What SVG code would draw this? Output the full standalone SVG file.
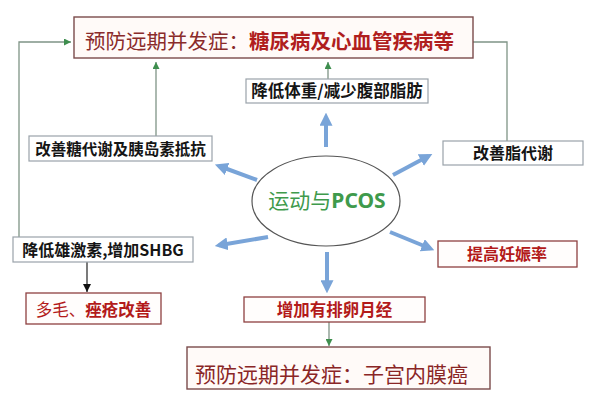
<svg xmlns="http://www.w3.org/2000/svg" width="600" height="400" viewBox="0 0 600 400">
<defs>
<style>
text{font-family:"Noto Sans CJK SC","Noto Sans",sans-serif;}
.box{fill:#ffffff;stroke:#9aa2aa;stroke-width:1.2;}
.rbox{fill:#fffdfc;stroke:#8e4040;stroke-width:1.3;}
.tbox{fill:#fffaf8;stroke:#7b4b4b;stroke-width:1.4;}
.blk{font-weight:700;fill:#151515;text-anchor:middle;}
.red{font-weight:700;fill:#b31a1a;text-anchor:middle;}
.big{fill:#8a2626;}
.g{fill:none;stroke:#7f9486;stroke-width:1.3;}
.b{fill:none;stroke:#79a4d8;stroke-width:4;}
</style>
<marker id="ag" viewBox="0 0 8 8" refX="8" refY="4" markerWidth="7" markerHeight="7" markerUnits="userSpaceOnUse" orient="auto"><path d="M0,0 L8,4 L0,8 z" fill="#3e8e4e"/></marker>
<marker id="ak" viewBox="0 0 8 8" refX="8" refY="4" markerWidth="8" markerHeight="8" markerUnits="userSpaceOnUse" orient="auto"><path d="M0,0 L8,4 L0,8 z" fill="#111"/></marker>
<marker id="ab" viewBox="0 0 12 12" refX="8" refY="6" markerWidth="13" markerHeight="13" markerUnits="userSpaceOnUse" orient="auto"><path d="M0,0 L12,6 L0,12 z" fill="#79a4d8"/></marker>
</defs>
<rect width="600" height="400" fill="#ffffff"/>

<g id="connectors">
<polyline class="g" points="19,237 19,42 71,42" marker-end="url(#ag)"/>
<line class="g" x1="156" y1="136" x2="156" y2="62" marker-end="url(#ag)"/>
<line class="g" x1="328" y1="79" x2="328" y2="62" marker-end="url(#ag)"/>
<polyline class="g" points="507,141 507,42 463,42" marker-end="url(#ag)"/>
<line class="g" x1="329" y1="322" x2="329" y2="346" marker-end="url(#ag)"/>
<line x1="87" y1="262" x2="87" y2="292" stroke="#333" stroke-width="1.3" marker-end="url(#ak)"/>
<line class="b" x1="326" y1="147" x2="326" y2="117" marker-end="url(#ab)"/>
<line class="b" x1="257" y1="180" x2="219" y2="166" marker-end="url(#ab)"/>
<line class="b" x1="393" y1="175" x2="428.5" y2="156" marker-end="url(#ab)"/>
<line class="b" x1="268" y1="237" x2="219" y2="245.3" marker-end="url(#ab)"/>
<line class="b" x1="390" y1="232" x2="430.3" y2="248.5" marker-end="url(#ab)"/>
<line class="b" x1="327" y1="252" x2="327" y2="289" marker-end="url(#ab)"/>
</g>

<g id="top">
<rect class="tbox" x="74" y="17" width="399" height="41"/>
<text x="85" y="49" font-size="20.5"><tspan fill="#8a2b2b">预防远期并发症：</tspan><tspan fill="#b01e1e" font-weight="700">糖尿病及心血管疾病等</tspan></text>
</g>

<g id="weight">
<rect class="box" x="246" y="79" width="182" height="24"/>
<text class="blk" x="337" y="97" font-size="16.5">降低体重/减少腹部脂肪</text>
</g>

<g id="glucose">
<rect class="box" x="29" y="136" width="183" height="25"/>
<text class="blk" x="120.5" y="155" font-size="15.5">改善糖代谢及胰岛素抵抗</text>
</g>

<g id="lipid">
<rect class="box" x="443" y="141" width="140" height="24"/>
<text class="blk" x="513" y="159" font-size="16">改善脂代谢</text>
</g>

<g id="center">
<ellipse cx="326" cy="201" rx="74" ry="45" fill="#ffffff" stroke="#555" stroke-width="1.2"/>
<text x="327" y="208" font-size="21" text-anchor="middle" fill="#3f9a4c"><tspan>运动与</tspan><tspan font-weight="700" font-family="'Noto Sans',sans-serif">PCOS</tspan></text>
</g>

<g id="androgen">
<rect class="box" x="13" y="237" width="180" height="25"/>
<text class="blk" x="103" y="256" font-size="16">降低雄激素,增加SHBG</text>
</g>

<g id="pregnancy">
<rect class="rbox" x="438" y="241" width="139" height="26"/>
<text class="red" x="507" y="260" font-size="16">提高妊娠率</text>
</g>

<g id="hair">
<rect class="rbox" x="26" y="293" width="135" height="31"/>
<text class="red" x="93.5" y="316" font-size="16.5"><tspan font-weight="400">多毛、</tspan>痤疮改善</text>
</g>

<g id="ovulation">
<rect class="rbox" x="244" y="297" width="181" height="25"/>
<text class="red" x="334.5" y="316" font-size="16.5">增加有排卵月经</text>
</g>

<g id="bottom">
<rect class="tbox" x="187" y="347" width="303" height="42"/>
<text class="big" x="195" y="382" font-size="21">预防远期并发症：子宫内膜癌</text>
</g>
</svg>
